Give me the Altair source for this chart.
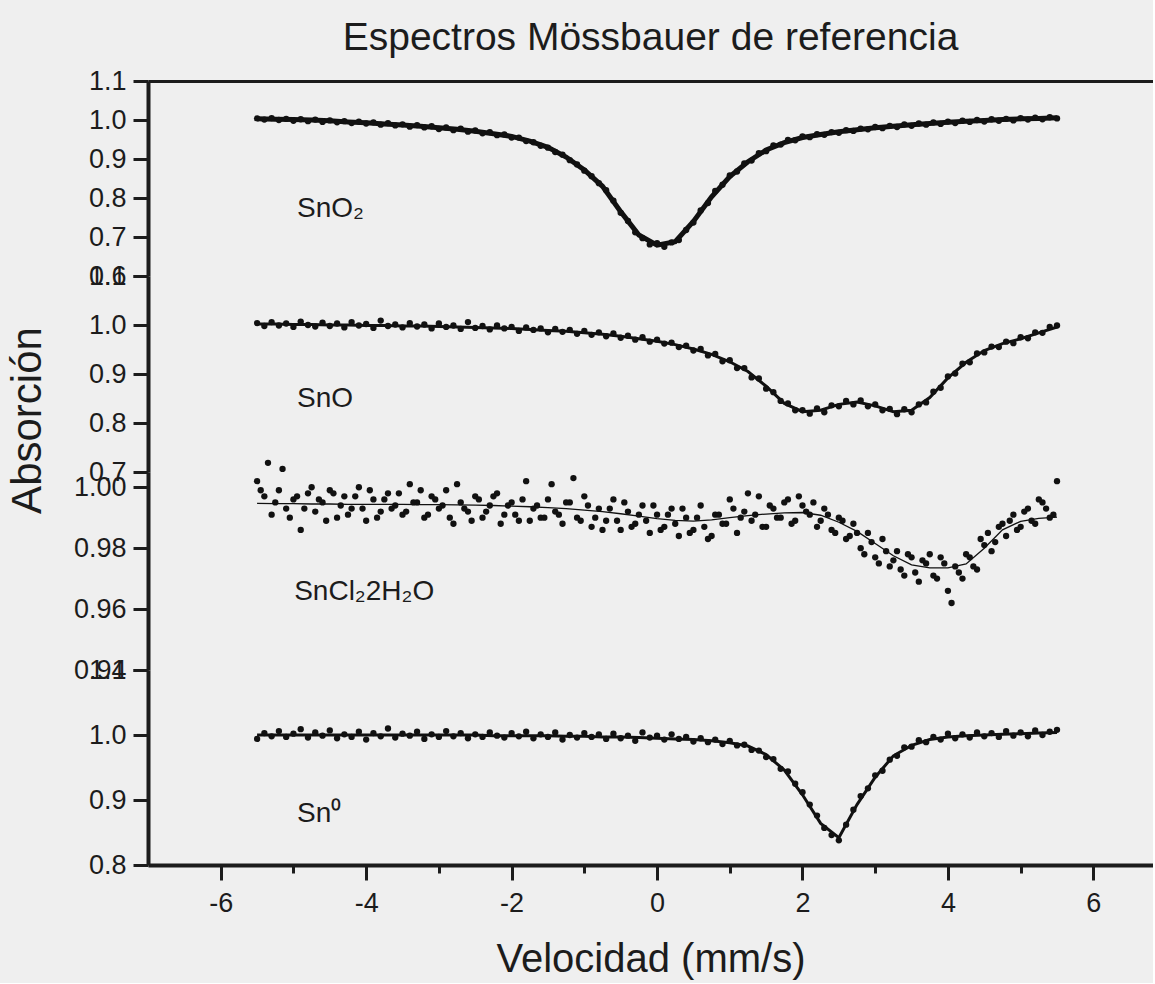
import altair as alt
import pandas as pd

# ---------------- data ----------------
X_START = -5.5        # first channel velocity (mm/s)
X_STEP = 0.1          # channel spacing of the plotted points
FIT_STEP = 0.25       # spacing of the read-off fitted curve

labels = ["SnO\u2082", "SnO", "SnCl\u20822H\u2082O", "Sn\u2070"]

sno2_points = [
    1.004, 1.001, 1.005, 1.000, 1.003, 0.998, 1.002, 0.997, 1.001, 0.995,
    0.999, 0.994, 0.997, 0.992, 0.996, 0.991, 0.994, 0.988, 0.992, 0.986,
    0.989, 0.983, 0.987, 0.981, 0.984, 0.977, 0.981, 0.974, 0.978, 0.970,
    0.973, 0.966, 0.969, 0.961, 0.963, 0.955, 0.955, 0.946, 0.943, 0.934,
    0.929, 0.918, 0.911, 0.897, 0.886, 0.870, 0.856, 0.838, 0.820, 0.793,
    0.762, 0.741, 0.712, 0.697, 0.681, 0.684, 0.675, 0.686, 0.692, 0.718,
    0.737, 0.768, 0.787, 0.818, 0.834, 0.858, 0.868, 0.889, 0.896, 0.915,
    0.920, 0.935, 0.937, 0.949, 0.948, 0.958, 0.956, 0.964, 0.962, 0.969,
    0.967, 0.974, 0.972, 0.978, 0.976, 0.982, 0.979, 0.985, 0.982, 0.989,
    0.985, 0.991, 0.988, 0.994, 0.990, 0.996, 0.992, 0.998, 0.995, 1.000,
    0.996, 1.002, 0.998, 1.003, 0.999, 1.005, 1.001, 1.006, 1.002, 1.007,
    1.004,
]
sno2_fit = [
    1.003, 1.002, 1.001, 1.000, 0.998, 0.995, 0.993, 0.990, 0.987, 0.984,
    0.980, 0.976, 0.971, 0.965, 0.958, 0.946, 0.930, 0.905, 0.872, 0.830,
    0.765, 0.705, 0.679, 0.688, 0.740, 0.803, 0.855, 0.893, 0.923, 0.942,
    0.955, 0.963, 0.970, 0.975, 0.980, 0.984, 0.988, 0.991, 0.994, 0.997,
    0.999, 1.001, 1.003, 1.004, 1.006,
]

sno_points = [
    1.004, 0.998, 1.006, 0.999, 1.003, 0.996, 1.007, 1.000, 0.997, 1.005,
    0.998, 1.003, 0.995, 1.006, 0.999, 1.002, 0.994, 1.009, 0.998, 1.001,
    0.995, 1.004, 0.997, 1.001, 0.993, 1.003, 0.996, 0.999, 0.992, 1.006,
    0.994, 0.998, 0.991, 0.999, 0.993, 0.996, 0.988, 0.995, 0.990, 0.993,
    0.985, 0.992, 0.986, 0.990, 0.982, 0.988, 0.980, 0.985, 0.977, 0.983,
    0.974, 0.978, 0.970, 0.975, 0.966, 0.970, 0.962, 0.964, 0.955, 0.958,
    0.948, 0.951, 0.938, 0.941, 0.926, 0.928, 0.912, 0.912, 0.893, 0.891,
    0.870, 0.863, 0.845, 0.840, 0.826, 0.826, 0.819, 0.830, 0.822, 0.836,
    0.834, 0.845, 0.838, 0.846, 0.834, 0.838, 0.826, 0.829, 0.818, 0.828,
    0.822, 0.838, 0.842, 0.864, 0.872, 0.895, 0.901, 0.921, 0.924, 0.942,
    0.944, 0.956, 0.955, 0.966, 0.963, 0.975, 0.973, 0.985, 0.984, 0.996,
    0.999,
]
sno_fit = [
    1.002, 1.002, 1.001, 1.001, 1.000, 1.000, 0.999, 0.999, 0.998, 0.998,
    0.997, 0.996, 0.995, 0.994, 0.993, 0.991, 0.989, 0.987, 0.984, 0.981,
    0.977, 0.972, 0.967, 0.960, 0.951, 0.940, 0.925, 0.905, 0.875, 0.840,
    0.823, 0.826, 0.838, 0.843, 0.835, 0.823, 0.826, 0.852, 0.892, 0.924,
    0.948, 0.962, 0.972, 0.984, 0.996,
]

sncl2_points_a = [
    1.002, 0.997, 0.991, 0.999, 0.993, 0.996, 0.986, 0.998, 0.992, 0.995,
    0.999, 0.990, 0.997, 0.993, 1.000, 0.989, 0.996, 0.992, 0.998, 0.994,
    0.991, 1.001, 0.995, 0.990, 0.997, 0.993, 0.999, 0.988, 0.995, 0.992,
    0.997, 0.990, 0.994, 0.998, 0.991, 0.995, 0.989, 1.002, 0.993, 0.990,
    0.996, 0.992, 0.988, 0.995, 0.990, 0.997, 0.987, 0.993, 0.989, 0.996,
    0.986, 0.992, 0.988, 0.994, 0.985, 0.991, 0.987, 0.993, 0.984, 0.990,
    0.986, 0.994, 0.983, 0.991, 0.988, 0.996, 0.985, 0.992, 0.989, 0.997,
    0.987, 0.993, 0.990, 0.996, 0.989, 0.994, 0.991, 0.987, 0.993, 0.986,
    0.990, 0.983, 0.988, 0.980, 0.985, 0.977, 0.983, 0.974, 0.979, 0.971,
    0.977, 0.969, 0.975, 0.971, 0.977, 0.966, 0.974, 0.970, 0.977, 0.973,
    0.981, 0.979, 0.987, 0.984, 0.991, 0.987, 0.993, 0.988, 0.995, 0.990,
    1.002,
]
# second interleaved set of channels (starting half a step later)
sncl2_points_b = [
    0.999, 1.008, 0.995, 1.006, 0.990, 0.997, 0.993, 1.000, 0.996, 0.989,
    0.998, 0.994, 0.991, 0.997, 0.993, 0.999, 0.990, 0.996, 0.993, 0.998,
    0.992, 0.995, 0.999, 0.991, 0.996, 0.994, 0.990, 1.001, 0.993, 0.989,
    0.996, 0.992, 0.997, 0.988, 0.994, 0.991, 0.996, 0.989, 0.994, 0.990,
    1.001, 0.991, 0.995, 1.003, 0.989, 0.994, 0.990, 0.986, 0.993, 0.989,
    0.995, 0.987, 0.991, 0.989, 0.994, 0.986, 0.991, 0.988, 0.993, 0.985,
    0.990, 0.987, 0.984, 0.991, 0.988, 0.993, 0.990, 0.998, 0.991, 0.987,
    0.994, 0.990, 0.995, 0.988, 0.997, 0.992, 0.995, 0.989, 0.991, 0.985,
    0.989, 0.984, 0.985, 0.978, 0.982, 0.975, 0.979, 0.976, 0.973, 0.978,
    0.972, 0.976, 0.978, 0.970, 0.975, 0.962, 0.972, 0.978, 0.974, 0.983,
    0.985, 0.982, 0.988, 0.989, 0.986, 0.992, 0.989, 0.996, 0.993, 0.991,
]
sncl2_fit = [
    0.9947, 0.9946, 0.9946, 0.9945, 0.9945, 0.9944, 0.9944, 0.9944, 0.9944, 0.9943,
    0.9943, 0.9942, 0.9941, 0.9940, 0.9938, 0.9936, 0.9933, 0.9930, 0.9925, 0.9920,
    0.9913, 0.9905, 0.9897, 0.9891, 0.9889, 0.9893, 0.9900, 0.9907, 0.9912, 0.9916,
    0.9917, 0.9908, 0.9885, 0.9855, 0.9815, 0.9775, 0.9745, 0.9735, 0.9735, 0.9748,
    0.9800, 0.9860, 0.9888, 0.9898, 0.9902,
]

sn0_points = [
    0.994, 1.003, 0.998, 1.006, 0.997, 1.002, 1.009, 0.996, 1.004, 0.999,
    1.007, 0.995, 1.001, 0.997, 1.005, 0.993, 1.003, 0.998, 1.010, 0.996,
    1.002, 0.999, 1.005, 0.994, 1.001, 0.997, 1.006, 0.998, 1.003, 0.995,
    1.001, 0.997, 1.004, 0.999, 0.996, 1.003, 0.998, 1.005, 0.995, 1.001,
    0.997, 1.004, 0.993, 1.000, 0.996, 1.003, 0.997, 1.001, 0.994, 1.002,
    0.995, 0.999, 0.991, 1.004, 0.996, 0.999, 0.993, 1.001, 0.994, 0.997,
    0.990, 0.995, 0.989, 0.993, 0.986, 0.991, 0.984, 0.985, 0.977, 0.976,
    0.966, 0.963, 0.948, 0.944, 0.925, 0.912, 0.893, 0.876, 0.857, 0.846,
    0.838, 0.862, 0.885, 0.906, 0.918, 0.938, 0.945, 0.962, 0.968, 0.981,
    0.982, 0.992, 0.989, 0.997, 0.993, 1.002, 0.995, 1.001, 0.996, 1.004,
    0.998, 1.003, 0.997, 1.006, 0.999, 1.004, 0.998, 1.007, 1.000, 1.005,
    1.008,
]
sn0_fit = [
    1.000, 1.000, 1.000, 1.000, 1.000, 1.000, 1.000, 1.000, 1.000, 1.000,
    1.000, 1.000, 1.000, 0.999, 0.999, 0.999, 0.999, 0.998, 0.998, 0.997,
    0.997, 0.996, 0.995, 0.994, 0.993, 0.991, 0.988, 0.983, 0.970, 0.946,
    0.908, 0.864, 0.842, 0.893, 0.935, 0.968, 0.984, 0.993, 0.997, 0.999,
    1.000, 1.001, 1.002, 1.003, 1.004,
]

x_major_ticks = [-6, -4, -2, 0, 2, 4, 6]
x_minor_ticks = [-5, -3, -1, 1, 3, 5]


def frame(values, start, step):
    return pd.DataFrame({"v": [round(start + i * step, 3) for i in range(len(values))],
                         "a": values})


# ---------------- styling ----------------
FONT = "Liberation Sans"
INK = "#1c1c1c"
BG = "#efefef"
W = 1005
XDOM = [-7, 6.82]
xscale = alt.Scale(domain=XDOM, nice=False, zero=False)


def yaxis(vals, fmt, extra=None):
    kw = dict(values=vals, format=fmt, grid=False, tickSize=15, tickWidth=3,
              domainWidth=4, domainColor=INK, tickColor=INK,
              labelFont=FONT, labelFontSize=27, labelColor=INK, labelPadding=7,
              labelFlush=False, labelOverlap=False, title=None)
    if extra:
        kw.update(extra)
    return alt.Axis(**kw)


def panel(pts_list, fit, label, label_pos, ydom, yvals, yfmt, h, xaxes,
          fit_width=1.3, title=None, extra_pts=None, y_extra=None, independent=False):
    """xaxes: (axis for points layer, axis for fit layer, axis for text layer)"""
    yscale = alt.Scale(domain=ydom, nice=False, zero=False)
    pts = frame(pts_list, X_START, X_STEP)
    if extra_pts is not None:
        pts = pd.concat([pts, frame(extra_pts, X_START + X_STEP / 2, X_STEP)])
    fitdf = frame(fit, X_START, FIT_STEP)
    line = alt.Chart(fitdf).mark_line(color="#111111", strokeWidth=fit_width).encode(
        x=alt.X("v:Q", scale=xscale, axis=xaxes[1]),
        y=alt.Y("a:Q", scale=yscale, axis=yaxis(yvals, yfmt, y_extra)),
    )
    points = alt.Chart(pts).mark_circle(size=40, color="#111111", opacity=1).encode(
        x=alt.X("v:Q", scale=xscale, axis=xaxes[0]),
        y=alt.Y("a:Q", scale=yscale, axis=yaxis(yvals, yfmt, y_extra)),
    )
    txt = alt.Chart(pd.DataFrame({"v": [label_pos[0]], "a": [label_pos[1]], "t": [label]})).mark_text(
        align="left", baseline="middle", font=FONT, fontSize=28, color=INK
    ).encode(
        x=alt.X("v:Q", scale=xscale, axis=xaxes[2]),
        y=alt.Y("a:Q", scale=yscale, axis=yaxis(yvals, yfmt, y_extra)),
        text="t:N",
    )
    ch = alt.layer(line, points, txt)
    if independent:
        ch = ch.resolve_axis(x="independent")
    props = dict(width=W, height=h)
    if title is not None:
        props["title"] = title
    return ch.properties(**props)


def top_axis():
    return alt.Axis(orient="top", ticks=False, labels=False, domain=True, domainWidth=3,
                    domainColor=INK, title=None, grid=False)


title = alt.TitleParams(
    "Espectros Mössbauer de referencia", font=FONT, fontSize=39, fontWeight="normal",
    color=INK, anchor="middle", frame="group", offset=9,
)

p1 = panel(sno2_points, sno2_fit, labels[0], (-4.95, 0.772), [0.6, 1.1],
           [0.6, 0.7, 0.8, 0.9, 1.0, 1.1], ".1f", 195,
           xaxes=(top_axis(), top_axis(), top_axis()), fit_width=5, title=title)
p2 = panel(sno_points, sno_fit, labels[1], (-4.95, 0.849), [0.7, 1.1],
           [0.7, 0.8, 0.9, 1.0, 1.1], ".1f", 196, xaxes=(None, None, None), fit_width=3,
           y_extra=dict(title="Absorción", titleFont=FONT, titleFontSize=42,
                        titleFontWeight="normal", titleColor=INK, titleX=-121, titleY=144,
                        titleAngle=270, titleAlign="center", titleBaseline="middle"))
p3 = panel(sncl2_points_a, sncl2_fit, labels[2], (-4.99, 0.9656), [0.94, 1.005],
           [0.94, 0.96, 0.98, 1.00], ".2f", 198, xaxes=(None, None, None),
           fit_width=1.3, extra_pts=sncl2_points_b)

bottom_major = alt.Axis(orient="bottom", values=x_major_ticks, labelExpr="datum.value + ''",
                        grid=False, tickSize=15, tickWidth=3, domainWidth=4, domainColor=INK,
                        tickColor=INK, labelFont=FONT, labelFontSize=27, labelColor=INK,
                        labelPadding=10, labelFlush=False, title="Velocidad (mm/s)",
                        titleFont=FONT, titleFontSize=40, titleFontWeight="normal",
                        titleColor=INK, titlePadding=23)
bottom_minor = alt.Axis(orient="bottom", values=x_minor_ticks, grid=False, labels=False,
                        domain=False, tickSize=8, tickWidth=3, tickColor=INK, title=None)
p4 = panel(sn0_points, sn0_fit, labels[3], (-4.95, 0.879), [0.8, 1.1],
           [0.8, 0.9, 1.0, 1.1], ".1f", 195, xaxes=(bottom_major, bottom_minor, None),
           fit_width=3, independent=True)

chart = alt.vconcat(p1, p2, p3, p4, spacing=0, bounds="flush").properties(
    background=BG,
    padding={"left": 6, "top": 19, "right": 0, "bottom": 4},
).configure_view(stroke=None).configure_concat(spacing=0)

chart.save("out.html", embed_options={"renderer": "svg", "actions": False})
